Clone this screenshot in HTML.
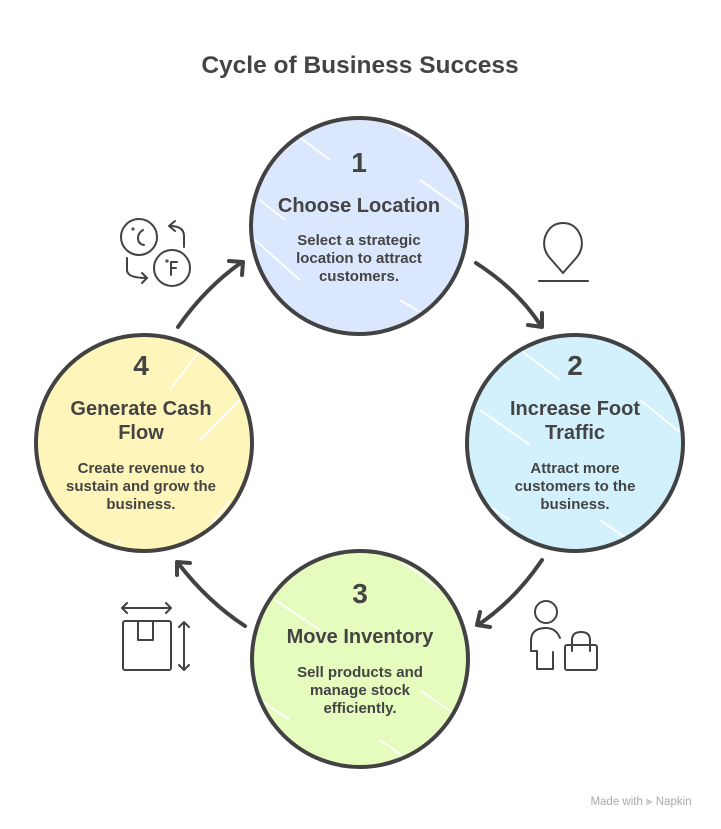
<!DOCTYPE html>
<html><head><meta charset="utf-8"><style>
html,body{margin:0;padding:0;background:#fff;}
svg{display:block;}
text{font-family:"Liberation Sans",Arial,sans-serif;font-weight:bold;fill:#444;}
</style></head><body>
<svg width="721" height="829" viewBox="0 0 721 829" xmlns="http://www.w3.org/2000/svg">
<defs>
<clipPath id="c1"><circle cx="359" cy="226" r="112"/></clipPath>
<clipPath id="c2"><circle cx="575" cy="443" r="112"/></clipPath>
<clipPath id="c3"><circle cx="360" cy="659" r="112"/></clipPath>
<clipPath id="c4"><circle cx="144" cy="443" r="112"/></clipPath>
</defs>
<text x="360" y="73" font-size="24.5" text-anchor="middle">Cycle of Business Success</text>

<!-- circle 1 -->
<circle cx="359" cy="226" r="109" fill="#dbe7fd"/>
<g clip-path="url(#c1)" stroke="#fff" stroke-width="2" opacity="0.9">
<line x1="290" y1="130" x2="330" y2="160"/><line x1="255" y1="240" x2="300" y2="280"/>
<line x1="400" y1="300" x2="450" y2="330"/><line x1="420" y1="180" x2="470" y2="215"/>
<line x1="260" y1="200" x2="285" y2="220"/><line x1="380" y1="120" x2="420" y2="140"/>
</g>
<circle cx="359" cy="226" r="108" fill="none" stroke="#424242" stroke-width="4"/>
<text x="359" y="172" font-size="28" text-anchor="middle">1</text>
<text x="359" y="212" font-size="20" text-anchor="middle">Choose Location</text>
<text x="359" y="245" font-size="15" text-anchor="middle">Select a strategic</text>
<text x="359" y="263" font-size="15" text-anchor="middle">location to attract</text>
<text x="359" y="281" font-size="15" text-anchor="middle">customers.</text>

<!-- circle 2 -->
<circle cx="575" cy="443" r="109" fill="#d2f1fc"/>
<g clip-path="url(#c2)" stroke="#fff" stroke-width="2" opacity="0.9">
<line x1="520" y1="350" x2="560" y2="380"/><line x1="480" y1="410" x2="530" y2="445"/>
<line x1="600" y1="520" x2="650" y2="555"/><line x1="640" y1="400" x2="690" y2="440"/>
<line x1="480" y1="500" x2="510" y2="520"/>
</g>
<circle cx="575" cy="443" r="108" fill="none" stroke="#424242" stroke-width="4"/>
<text x="575" y="375" font-size="28" text-anchor="middle">2</text>
<text x="575" y="415" font-size="20" text-anchor="middle">Increase Foot</text>
<text x="575" y="439" font-size="20" text-anchor="middle">Traffic</text>
<text x="575" y="473" font-size="15" text-anchor="middle">Attract more</text>
<text x="575" y="491" font-size="15" text-anchor="middle">customers to the</text>
<text x="575" y="509" font-size="15" text-anchor="middle">business.</text>

<!-- circle 3 -->
<circle cx="360" cy="659" r="109" fill="#e6fbbe"/>
<g clip-path="url(#c3)" stroke="#fff" stroke-width="2" opacity="0.9">
<line x1="275" y1="600" x2="320" y2="630"/><line x1="420" y1="690" x2="470" y2="725"/>
<line x1="380" y1="740" x2="430" y2="775"/><line x1="260" y1="700" x2="290" y2="720"/>
<line x1="400" y1="560" x2="440" y2="590"/>
</g>
<circle cx="360" cy="659" r="108" fill="none" stroke="#424242" stroke-width="4"/>
<text x="360" y="603" font-size="28" text-anchor="middle">3</text>
<text x="360" y="643" font-size="20" text-anchor="middle">Move Inventory</text>
<text x="360" y="677" font-size="15" text-anchor="middle">Sell products and</text>
<text x="360" y="695" font-size="15" text-anchor="middle">manage stock</text>
<text x="360" y="713" font-size="15" text-anchor="middle">efficiently.</text>

<!-- circle 4 -->
<circle cx="144" cy="443" r="109" fill="#fdf5b9"/>
<g clip-path="url(#c4)" stroke="#fff" stroke-width="2" opacity="0.9">
<line x1="200" y1="350" x2="170" y2="390"/><line x1="240" y1="400" x2="200" y2="440"/>
<line x1="60" y1="510" x2="40" y2="540"/><line x1="230" y1="500" x2="200" y2="540"/>
<line x1="120" y1="540" x2="100" y2="560"/>
</g>
<circle cx="144" cy="443" r="108" fill="none" stroke="#424242" stroke-width="4"/>
<text x="141" y="375" font-size="28" text-anchor="middle">4</text>
<text x="141" y="415" font-size="20" text-anchor="middle">Generate Cash</text>
<text x="141" y="439" font-size="20" text-anchor="middle">Flow</text>
<text x="141" y="473" font-size="15" text-anchor="middle">Create revenue to</text>
<text x="141" y="491" font-size="15" text-anchor="middle">sustain and grow the</text>
<text x="141" y="509" font-size="15" text-anchor="middle">business.</text>

<!-- arrows -->
<g fill="none" stroke="#424242" stroke-width="4" stroke-linecap="round" stroke-linejoin="round">
<path d="M178,327 Q205,288 242,262"/>
<path d="M229,261 L243,262 L242,275"/>
<path d="M476,263 Q518,290 541,326"/>
<path d="M528,325 L542,327 L542,313"/>
<path d="M542,560 Q515,600 478,625"/>
<path d="M480,612 L477,625 L490,627"/>
<path d="M245,626 Q208,602 178,563"/>
<path d="M190,563 L177,562 L177,575"/>
</g>

<!-- icons -->
<g fill="none" stroke="#424242" stroke-width="2" stroke-linecap="round" stroke-linejoin="round">
<!-- temperature -->
<circle cx="139" cy="237" r="18"/>
<circle cx="172" cy="268" r="18"/>
<path d="M143,230 Q138,233 138,238 Q138,244 144,245"/>
<circle cx="133" cy="229" r="0.6"/>
<circle cx="167" cy="261" r="0.6"/>
<path d="M171,262 L171,275 M171,262 L177,262 M171,268 L176,268"/>
<path d="M184,247 L184,236 Q184,226 170,226"/>
<path d="M175,221 L169,226 L175,231"/>
<path d="M127,258 L127,270 Q127,278 147,278"/>
<path d="M142,273 L147,278 L142,283"/>
<!-- location pin -->
<path d="M563,273 L549,257 Q542,248 545,237 Q550,223 563,223 Q576,223 581,237 Q584,248 577,257 Z"/>
<path d="M539,281 L588,281"/>
<!-- box -->
<rect x="123" y="621" width="48" height="49" rx="2"/>
<path d="M138,621 L138,640 L153,640 L153,621"/>
<path d="M122,608 L171,608 M127,603 L122,608 L127,613 M166,603 L171,608 L166,613"/>
<path d="M184,622 L184,670 M179,627 L184,622 L189,627 M179,665 L184,670 L189,665"/>
<!-- person with bag -->
<circle cx="546" cy="612" r="11"/>
<path d="M531,651 L531,641 Q531,628 546,628 Q556,628 560,638"/>
<path d="M531,651 L537,651 L537,669 L553,669 L553,652"/>
<rect x="565" y="645" width="32" height="25" rx="2"/>
<path d="M572,651 L572,640 Q572,632 581,632 Q590,632 590,640 L590,651"/>
</g>

<text x="641" y="805" font-size="11.5" text-anchor="middle" style="font-weight:normal;fill:#aaa;">Made with ⫸ Napkin</text>
</svg>
</body></html>
